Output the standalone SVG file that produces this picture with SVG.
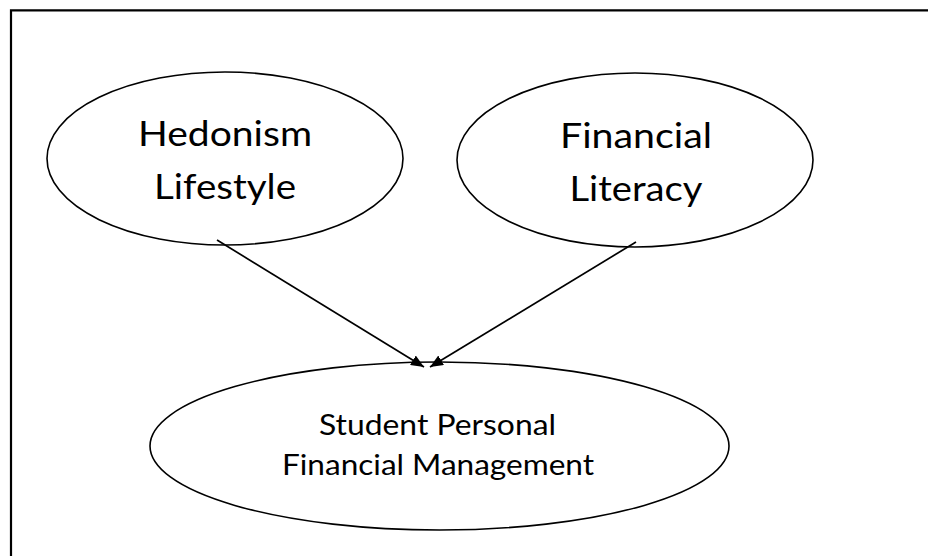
<svg xmlns="http://www.w3.org/2000/svg" width="928" height="556" viewBox="0 0 928 556">
  <style>
    .node ellipse { fill: #ffffff; stroke: #000000; stroke-width: 1.6; }
    .big { font-family: Lato, "Open Sans", "Liberation Sans", sans-serif; font-size: 35px; fill: #000000; text-anchor: middle; }
    .small { font-family: Lato, "Open Sans", "Liberation Sans", sans-serif; font-size: 28px; fill: #000000; text-anchor: middle; }
    .edge { stroke: #000000; stroke-width: 1.7; fill: none; }
  </style>
  <defs>
    <marker id="tri" viewBox="0 0 13 11" refX="13" refY="5.5" markerWidth="13" markerHeight="11" markerUnits="userSpaceOnUse" orient="auto">
      <path d="M0,0 L13,5.5 L0,11 Z" fill="#000000"/>
    </marker>
  </defs>

  <rect width="928" height="556" fill="#ffffff"/>
  <!-- frame: only top and left sides fall inside the canvas -->
  <path d="M11,560 V10.3 H932" fill="none" stroke="#000000" stroke-width="2.2"/>

  <g id="node-hedonism" class="node">
    <ellipse cx="225" cy="158.5" rx="178" ry="86.5"/>
    <text class="big" x="225" y="146" textLength="174" lengthAdjust="spacingAndGlyphs">Hedonism</text>
    <text class="big" x="225" y="199" textLength="142" lengthAdjust="spacingAndGlyphs">Lifestyle</text>
  </g>

  <g id="node-literacy" class="node">
    <ellipse cx="635" cy="160" rx="178" ry="87"/>
    <text class="big" x="636" y="148" textLength="152" lengthAdjust="spacingAndGlyphs">Financial</text>
    <text class="big" x="636" y="201" textLength="133" lengthAdjust="spacingAndGlyphs">Literacy</text>
  </g>

  <g id="node-management" class="node">
    <ellipse cx="439.5" cy="446" rx="289.5" ry="84"/>
    <text class="small" x="437.5" y="435" textLength="237" lengthAdjust="spacingAndGlyphs">Student Personal</text>
    <text class="small" x="438" y="475" textLength="312" lengthAdjust="spacingAndGlyphs">Financial Management</text>
  </g>

  <g id="connectors">
    <line class="edge" x1="217" y1="240" x2="424" y2="367" marker-end="url(#tri)"/>
    <line class="edge" x1="636" y1="242" x2="430" y2="367" marker-end="url(#tri)"/>
  </g>
</svg>
